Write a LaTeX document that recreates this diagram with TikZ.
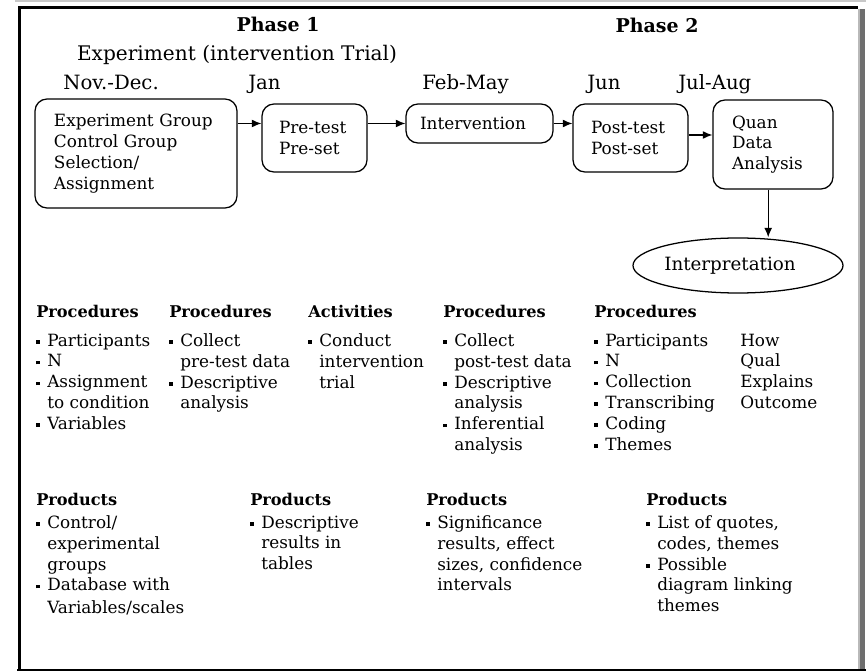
\documentclass[tikz,border=0pt]{standalone}
\usepackage{fontspec}
\setmainfont{DejaVu Serif}
\usetikzlibrary{calc,arrows.meta,shapes.geometric}
\newlength{\pxl}
\setlength{\pxl}{0.25mm}
\newcommand{\sqb}{\makebox[11\pxl][l]{\raisebox{0.3ex}{\rule{3.5\pxl}{3.5\pxl}}}}
\newcommand{\ind}{\hspace*{11\pxl}}
\definecolor{barlight}{RGB}{200,200,200}
\definecolor{bardark}{RGB}{110,110,110}

\tikzset{
	stage/.style={draw, line width=0.9pt, rounded corners=3mm, align=left, inner ysep=0pt, font=\fontsize{12}{5.2mm}\selectfont},
	flow/.style={-{Latex[length=2.4mm,width=2mm]}, line width=0.9pt},
	head/.style={anchor=base west, inner sep=0pt, font=\bfseries\fontsize{11.5}{14}\selectfont},
	items/.style={anchor=north west, yshift=3.64mm, inner sep=0pt, align=left, execute at begin node=\strut, font=\fontsize{12}{5.2mm}\selectfont},
	month/.style={anchor=base west, inner sep=0pt, font=\fontsize{14}{17}\selectfont},
	phase/.style={anchor=base, inner sep=0pt, font=\bfseries\fontsize{13.5}{16}\selectfont}
}

\begin{document}
\begin{tikzpicture}[x=0.25mm, y=-0.25mm]
	\useasboundingbox (0,0) rectangle (866,671);
	\fill[barlight] (15,0) rectangle (866,2.5);
	\fill[barlight!80!gray] (857.5,9) rectangle (860,669);
	\fill[bardark] (860,9) rectangle (864.5,669);
	\draw[line width=3\pxl] (19,671) -- (19,8) -- (858,8);
	\draw[line width=2.5\pxl] (17,669.8) -- (866,669.8);

	\node[phase] (ph1) at (278,32) {Phase 1};
	\node[phase] (ph2) at (657,33) {Phase 2};
	\node[month, anchor=base, font=\fontsize{14.3}{17}\selectfont] (trial) at (237,61) {Experiment (intervention Trial)};
	\node[month] (m1) at (63,90) {Nov.-Dec.};
	\node[month] (m2) at (248,90) {Jan};
	\node[month] (m3) at (422,90) {Feb-May};
	\node[month] (m4) at (587,90) {Jun};
	\node[month] (m5) at (678,90) {Jul-Aug};

	\node[stage, inner xsep=19\pxl, text width=164\pxl, minimum height=109\pxl] (box1) at (136,153.5) {Experiment Group\\ Control Group\\ Selection/\\ Assignment};
	\node[stage, inner xsep=17\pxl, text width=71\pxl, minimum height=68\pxl] (box2) at (314.5,138) {Pre-test\\ Pre-set};
	\node[stage, inner xsep=14\pxl, text width=119\pxl, minimum height=39\pxl] (box3) at (479.5,123.5) {Intervention};
	\node[stage, inner xsep=18\pxl, text width=79\pxl, minimum height=68\pxl] (box4) at (630.5,138) {Post-test\\ Post-set};
	\node[stage, inner xsep=19\pxl, text width=82\pxl, minimum height=89\pxl] (box5) at (773,144.5) {Quan\\ Data\\ Analysis};
	\node[draw, ellipse, line width=0.9pt, minimum width=210\pxl, minimum height=55\pxl, inner sep=0pt, font=\fontsize{13}{16}\selectfont] (interp) at (738,265.5) {Interpretation\hspace*{16\pxl}};

	\draw[flow] (box1.east |- box3.west) -- (box2.west |- box3.west);
	\draw[flow] (box2.east |- box3.west) -- (box3.west);
	\draw[flow] (box3.east) -- (box4.west |- box3.east);
	\draw[flow] ([yshift=0.75mm]box4.east) -- ([yshift=0.75mm]box5.west |- box4.east);
	\draw[flow] ([xshift=-1.2mm]box5.south) -- ([xshift=-1.2mm]box5.south |- interp.north);

	\node[head] (proc1) at (36,317) {Procedures};
	\node[head] (proc2) at (169,317) {Procedures};
	\node[head] (act3) at (308,317) {Activities};
	\node[head] (proc4) at (443,317) {Procedures};
	\node[head] (proc5) at (594,317) {Procedures};
	\node[items] (list1) at (36,348) {\sqb Participants\\ \sqb N\\ \sqb Assignment\\ \ind to condition\\ \sqb Variables};
	\node[items] (list2) at (169,348) {\sqb Collect\\ \ind pre-test data\\ \sqb Descriptive\\ \ind analysis};
	\node[items] (list3) at (308,348) {\sqb Conduct\\ \ind intervention\\ \ind trial};
	\node[items] (list4) at (443,348) {\sqb Collect\\ \ind post-test data\\ \sqb Descriptive\\ \ind analysis\\ \sqb Inferential\\ \ind analysis};
	\node[items] (list5) at (594,348) {\sqb Participants\\ \sqb N\\ \sqb Collection\\ \sqb Transcribing\\ \sqb Coding\\ \sqb Themes};
	\node[items] (qual) at (740,348) {How\\ Qual\\ Explains\\ Outcome};

	\node[head] (prod1) at (36,505) {Products};
	\node[head] (prod2) at (250,505) {Products};
	\node[head] (prod3) at (426,505) {Products};
	\node[head] (prod4) at (646,505) {Products};
	\node[items] (res1) at (36,530) {\sqb Control/\\ \ind experimental\\ \ind groups\\ \sqb Database with\\[2\pxl] \ind Variables/scales};
	\node[items] (res2) at (250,530) {\sqb Descriptive\\ \ind results in\\ \ind tables};
	\node[items] (res3) at (426,530) {\sqb Significance\\ \ind results, effect\\ \ind sizes, confidence\\ \ind intervals};
	\node[items] (res4) at (646,530) {\sqb List of quotes,\\ \ind codes, themes\\ \sqb Possible\\ \ind diagram linking\\ \ind themes};
\end{tikzpicture}
\end{document}
